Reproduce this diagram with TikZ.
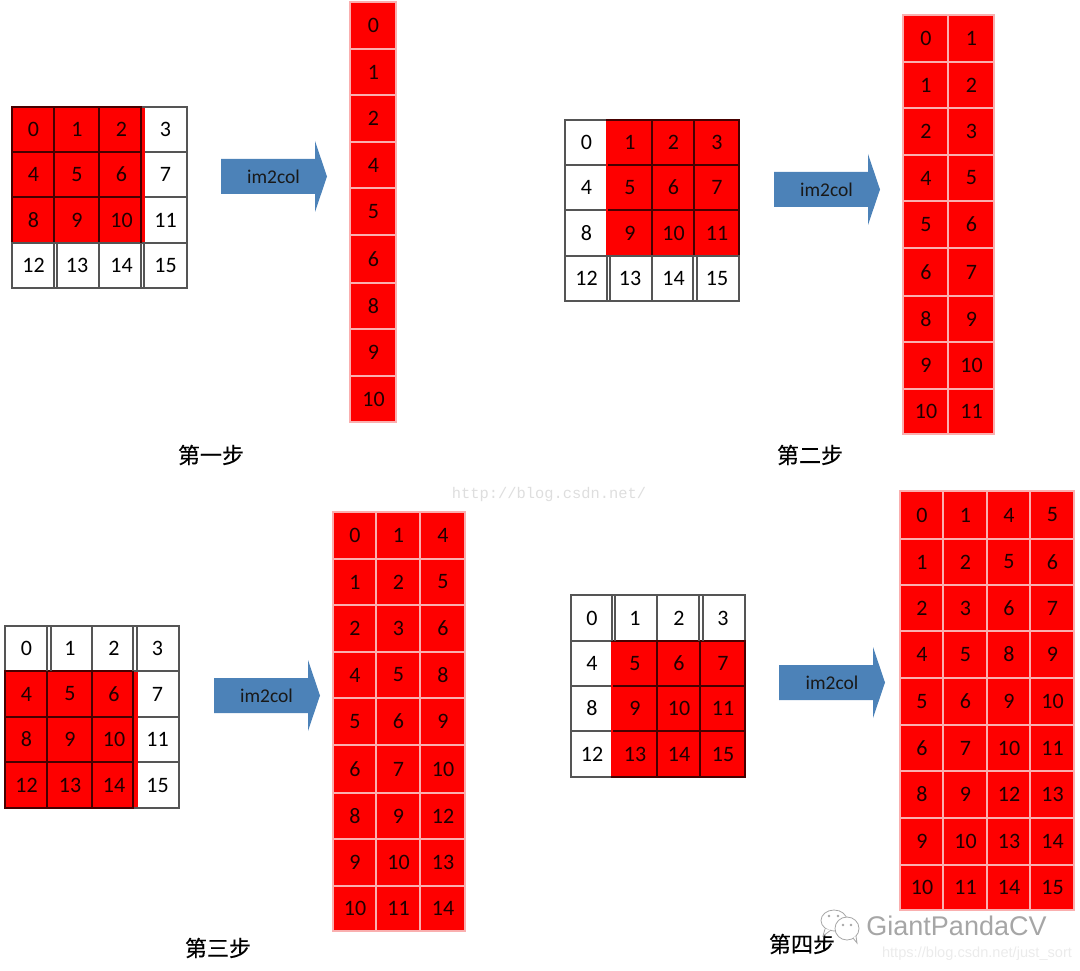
\documentclass[tikz,border=0pt]{standalone}
\usepackage{fontspec}
\setmainfont{Carlito}
\newfontfamily\cjkfont[FakeBold=0.4]{Noto Sans CJK SC}
\newfontfamily\wmmono{Liberation Mono}
\newfontfamily\wmsans{Liberation Sans}
\definecolor{cellred}{RGB}{254,0,0}
\definecolor{inkred}{RGB}{30,0,0}
\definecolor{gridline}{RGB}{85,85,85}
\definecolor{redline}{RGB}{70,0,0}
\definecolor{tableline}{RGB}{250,175,175}
\definecolor{arrowblue}{RGB}{76,130,184}
\tikzset{
  cellbase/.style={inner sep=0pt,outer sep=0pt,font=\fontsize{22}{26}\selectfont},
  rc/.style={cellbase,draw=redline,fill=cellred,line width=1.1pt,text=inkred},
  wc/.style={cellbase,draw=gridline,fill=white,line width=1.2pt,text=black},
  tc/.style={cellbase,draw=tableline,fill=cellred,line width=1.1pt,text=inkred},
  arrowbody/.style={fill=arrowblue,draw=none},
  arrowtext/.style={inner sep=0pt,font=\fontsize{19.5}{23}\selectfont,text=black!90},
  steplabel/.style={inner sep=0pt,font=\cjkfont\fontsize{22}{26}\selectfont,text=black},
  pairline/.style={draw=gridline,line width=1.1pt},
  stripfill/.style={fill=cellred,draw=none},
  darkedge/.style={draw=redline,line width=1.1pt},
  softedge/.style={draw=cellred,line width=1.2pt},
  wmbubble/.style={draw=black!35,fill=white,line width=.8pt}
}
% #1 prefix, #2 x edges, #3 y edges, #4 number of columns, #5 list style/value
\newcommand\celltable[5]{%
  \foreach \s/\v [count=\i from 0] in {#5}{%
    \pgfmathtruncatemacro\cc{mod(\i,#4)}%
    \pgfmathtruncatemacro\rr{floor(\i/#4)}%
    \pgfmathsetmacro\xa{{#2}[\cc]}%
    \pgfmathsetmacro\xb{{#2}[\cc+1]}%
    \pgfmathsetmacro\ya{{#3}[\rr]}%
    \pgfmathsetmacro\yb{{#3}[\rr+1]}%
    \node[\s,minimum width=\xb pt-\xa pt,minimum height=\yb pt-\ya pt] (#1-\i) at ({(\xa+\xb)/2},{(\ya+\yb)/2}) {\hspace*{1pt}\v};
  }%
}
\newcommand\blockarrow[2]{%
  \fill[arrowbody] (#1,#2) -- ++(94,0) -- ++(0,-18) -- ++(12,35.5) -- ++(-12,35.5) -- ++(0,-18) -- ++(-94,0) -- cycle;
}
% a doubled vertical rule: #1 x, #2 x, #3 y top, #4 y bottom
\newcommand\doublerule[4]{%
  \fill[white] (#1,#3+0.7) rectangle (#2,#4-0.7);
  \draw[pairline] (#1,#3) -- (#1,#4) (#2,#3) -- (#2,#4);
}
\begin{document}
\begin{tikzpicture}[x=1pt,y=-1pt]
\useasboundingbox (0,0) rectangle (1080,971);

% step 1
\celltable{a}{12,54,99,143,187}{107,152,197,243,288}{4}{rc/0,rc/1,rc/2,wc/3,rc/4,rc/5,rc/6,wc/7,rc/8,rc/9,rc/10,wc/11,wc/12,wc/13,wc/14,wc/15}
\fill[stripfill] (141,107.6) rectangle (144.5,242.4);
\draw[darkedge] (141,107) -- (141,243);
\doublerule{54}{57}{243}{288}
\doublerule{141}{144}{243}{288}
\blockarrow{221}{159}
\node[arrowtext] (ta) at (273.5,176.5) {im2col};
\celltable{A}{350,396}{2,49,95,142,188,235,283,329,376,422}{1}{tc/0,tc/1,tc/2,tc/4,tc/5,tc/6,tc/8,tc/9,tc/10}
\node[steplabel] (la) at (211,455) {第一步};

% step 2
\celltable{b}{565,607,652,694,739}{120,165,210,256,301}{4}{wc/0,rc/1,rc/2,rc/3,wc/4,rc/5,rc/6,rc/7,wc/8,rc/9,rc/10,rc/11,wc/12,wc/13,wc/14,wc/15}
\draw[softedge] (607,121) -- (607,255);
\doublerule{607}{610}{256}{301}
\doublerule{693}{697}{256}{301}
\blockarrow{774}{172}
\node[arrowtext] (tb) at (826.5,189.5) {im2col};
\celltable{B}{903,948,994}{15,62,108,155,201,248,296,342,389,434}{2}{tc/0,tc/1,tc/1,tc/2,tc/2,tc/3,tc/4,tc/5,tc/5,tc/6,tc/6,tc/7,tc/8,tc/9,tc/9,tc/10,tc/10,tc/11}
\node[steplabel] (lb) at (810,455) {第二步};

% step 3
\celltable{c}{5,47,92,135,179}{626,671,717,762,808}{4}{wc/0,wc/1,wc/2,wc/3,rc/4,rc/5,rc/6,wc/7,rc/8,rc/9,rc/10,wc/11,rc/12,rc/13,rc/14,wc/15}
\fill[stripfill] (133,671.6) rectangle (137.5,807.4);
\draw[darkedge] (133,671) -- (133,808);
\doublerule{47}{51}{626}{671}
\doublerule{133}{137}{626}{671}
\blockarrow{214}{678}
\node[arrowtext] (tc) at (266.5,695.5) {im2col};
\celltable{C}{333,376,420,465}{512,559,605,652,698,745,793,839,886,931}{3}{tc/0,tc/1,tc/4,tc/1,tc/2,tc/5,tc/2,tc/3,tc/6,tc/4,tc/5,tc/8,tc/5,tc/6,tc/9,tc/6,tc/7,tc/10,tc/8,tc/9,tc/12,tc/9,tc/10,tc/13,tc/10,tc/11,tc/14}
\node[steplabel] (lc) at (218,948) {第三步};

% step 4
\celltable{d}{571,612,657,700,745}{595,641,686,731,777}{4}{wc/0,wc/1,wc/2,wc/3,wc/4,rc/5,rc/6,rc/7,wc/8,rc/9,rc/10,rc/11,wc/12,rc/13,rc/14,rc/15}
\draw[softedge] (612,642) -- (612,776);
\doublerule{612}{615}{595}{641}
\doublerule{699}{703}{595}{641}
\blockarrow{779}{665}
\node[arrowtext] (td) at (832,682.5) {im2col};
\celltable{D}{900,943,987,1030,1074}{491,539,585,631,678,725,771,818,865,910}{4}{tc/0,tc/1,tc/4,tc/5,tc/1,tc/2,tc/5,tc/6,tc/2,tc/3,tc/6,tc/7,tc/4,tc/5,tc/8,tc/9,tc/5,tc/6,tc/9,tc/10,tc/6,tc/7,tc/10,tc/11,tc/8,tc/9,tc/12,tc/13,tc/9,tc/10,tc/13,tc/14,tc/10,tc/11,tc/14,tc/15}
\node[steplabel] (ld) at (802,944) {第四步};

% watermarks
\node[inner sep=0pt,font=\wmmono\fontsize{15.4}{19}\selectfont,text=black!13] (w1) at (549,495) {http://blog.csdn.net/};
\draw[wmbubble] (834,920.5) ellipse (13 and 10.5);
\draw[wmbubble] (825,929) -- (823,936) -- (831,930);
\draw[wmbubble] (847,928.5) ellipse (12 and 11.5);
\draw[wmbubble] (853,938) -- (857,943) -- (856,936);
\fill[black!35] (829,916) circle (1.3) (838,916) circle (1.3) (843,925) circle (1.3) (851,925) circle (1.3);
\node[inner sep=0pt,font=\wmsans\fontsize{27}{32}\selectfont,text=black!35] (w2) at (956.5,926) {GiantPandaCV};
\node[inner sep=0pt,font=\wmsans\fontsize{14.6}{17}\selectfont,text=black!8] (w3) at (977,954) {https://blog.csdn.net/just\_sort};
\end{tikzpicture}
\end{document}
